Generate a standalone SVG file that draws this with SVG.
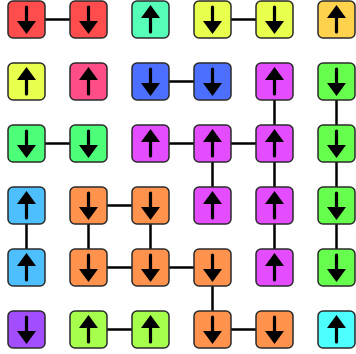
<svg xmlns="http://www.w3.org/2000/svg" xmlns:xlink="http://www.w3.org/1999/xlink" width="356" height="354" viewBox="0 0 356 354">
<style>
.cell{stroke:#2a2a2a;stroke-width:1.5}
.conn line{stroke:#000;stroke-width:2.5}
.shaft{stroke:#000;stroke-width:3.2;stroke-linecap:round;fill:none}
</style>
<defs>
<g id="down"><path class="shaft" d="M0,-12.5V4"/><polygon points="-9.5,1.5 9.5,1.5 0,14.5" fill="#000"/></g>
<g id="up"><path class="shaft" d="M0,12.5V-4"/><polygon points="-9.5,-1.5 9.5,-1.5 0,-14.5" fill="#000"/></g>
</defs>
<rect width="356" height="354" fill="#fff"/>
<g id="connectors" class="conn">
<line x1="26.5" y1="19.5" x2="88.5" y2="19.5"/>
<line x1="212.5" y1="19.5" x2="274.5" y2="19.5"/>
<line x1="150.5" y1="81.5" x2="212.5" y2="81.5"/>
<line x1="26.5" y1="143.5" x2="88.5" y2="143.5"/>
<line x1="150.5" y1="143.5" x2="274.5" y2="143.5"/>
<line x1="88.5" y1="205.5" x2="150.5" y2="205.5"/>
<line x1="88.5" y1="267.5" x2="212.5" y2="267.5"/>
<line x1="88.5" y1="329.5" x2="150.5" y2="329.5"/>
<line x1="212.5" y1="329.5" x2="274.5" y2="329.5"/>
<line x1="274.5" y1="81.5" x2="274.5" y2="267.5"/>
<line x1="336.5" y1="81.5" x2="336.5" y2="267.5"/>
<line x1="212.5" y1="143.5" x2="212.5" y2="205.5"/>
<line x1="26.5" y1="205.5" x2="26.5" y2="267.5"/>
<line x1="88.5" y1="205.5" x2="88.5" y2="267.5"/>
<line x1="150.5" y1="205.5" x2="150.5" y2="267.5"/>
<line x1="212.5" y1="267.5" x2="212.5" y2="329.5"/>
</g>
<g id="n00"><rect class="cell" x="8" y="1" width="37" height="37" rx="5" fill="#ff4d4d"/><use xlink:href="#down" x="26.5" y="19.5"/></g>
<g id="n01"><rect class="cell" x="70" y="1" width="37" height="37" rx="5" fill="#ff4d4d"/><use xlink:href="#down" x="88.5" y="19.5"/></g>
<g id="n02"><rect class="cell" x="132" y="1" width="37" height="37" rx="5" fill="#55ffb8"/><use xlink:href="#up" x="150.5" y="19.5"/></g>
<g id="n03"><rect class="cell" x="194" y="1" width="37" height="37" rx="5" fill="#e8ff4d"/><use xlink:href="#down" x="212.5" y="19.5"/></g>
<g id="n04"><rect class="cell" x="256" y="1" width="37" height="37" rx="5" fill="#e8ff4d"/><use xlink:href="#down" x="274.5" y="19.5"/></g>
<g id="n05"><rect class="cell" x="318" y="1" width="37" height="37" rx="5" fill="#ffd24d"/><use xlink:href="#up" x="336.5" y="19.5"/></g>
<g id="n10"><rect class="cell" x="8" y="63" width="37" height="37" rx="5" fill="#e8ff4d"/><use xlink:href="#up" x="26.5" y="81.5"/></g>
<g id="n11"><rect class="cell" x="70" y="63" width="37" height="37" rx="5" fill="#ff4d88"/><use xlink:href="#up" x="88.5" y="81.5"/></g>
<g id="n12"><rect class="cell" x="132" y="63" width="37" height="37" rx="5" fill="#4d6fff"/><use xlink:href="#down" x="150.5" y="81.5"/></g>
<g id="n13"><rect class="cell" x="194" y="63" width="37" height="37" rx="5" fill="#4d6fff"/><use xlink:href="#down" x="212.5" y="81.5"/></g>
<g id="n14"><rect class="cell" x="256" y="63" width="37" height="37" rx="5" fill="#e44dff"/><use xlink:href="#up" x="274.5" y="81.5"/></g>
<g id="n15"><rect class="cell" x="318" y="63" width="37" height="37" rx="5" fill="#66ff4d"/><use xlink:href="#down" x="336.5" y="81.5"/></g>
<g id="n20"><rect class="cell" x="8" y="125" width="37" height="37" rx="5" fill="#4dff78"/><use xlink:href="#down" x="26.5" y="143.5"/></g>
<g id="n21"><rect class="cell" x="70" y="125" width="37" height="37" rx="5" fill="#4dff78"/><use xlink:href="#down" x="88.5" y="143.5"/></g>
<g id="n22"><rect class="cell" x="132" y="125" width="37" height="37" rx="5" fill="#e44dff"/><use xlink:href="#up" x="150.5" y="143.5"/></g>
<g id="n23"><rect class="cell" x="194" y="125" width="37" height="37" rx="5" fill="#e44dff"/><use xlink:href="#up" x="212.5" y="143.5"/></g>
<g id="n24"><rect class="cell" x="256" y="125" width="37" height="37" rx="5" fill="#e44dff"/><use xlink:href="#up" x="274.5" y="143.5"/></g>
<g id="n25"><rect class="cell" x="318" y="125" width="37" height="37" rx="5" fill="#66ff4d"/><use xlink:href="#down" x="336.5" y="143.5"/></g>
<g id="n30"><rect class="cell" x="8" y="187" width="37" height="37" rx="5" fill="#4dbfff"/><use xlink:href="#up" x="26.5" y="205.5"/></g>
<g id="n31"><rect class="cell" x="70" y="187" width="37" height="37" rx="5" fill="#ff924d"/><use xlink:href="#down" x="88.5" y="205.5"/></g>
<g id="n32"><rect class="cell" x="132" y="187" width="37" height="37" rx="5" fill="#ff924d"/><use xlink:href="#down" x="150.5" y="205.5"/></g>
<g id="n33"><rect class="cell" x="194" y="187" width="37" height="37" rx="5" fill="#e44dff"/><use xlink:href="#up" x="212.5" y="205.5"/></g>
<g id="n34"><rect class="cell" x="256" y="187" width="37" height="37" rx="5" fill="#e44dff"/><use xlink:href="#up" x="274.5" y="205.5"/></g>
<g id="n35"><rect class="cell" x="318" y="187" width="37" height="37" rx="5" fill="#66ff4d"/><use xlink:href="#down" x="336.5" y="205.5"/></g>
<g id="n40"><rect class="cell" x="8" y="249" width="37" height="37" rx="5" fill="#4dbfff"/><use xlink:href="#up" x="26.5" y="267.5"/></g>
<g id="n41"><rect class="cell" x="70" y="249" width="37" height="37" rx="5" fill="#ff924d"/><use xlink:href="#down" x="88.5" y="267.5"/></g>
<g id="n42"><rect class="cell" x="132" y="249" width="37" height="37" rx="5" fill="#ff924d"/><use xlink:href="#down" x="150.5" y="267.5"/></g>
<g id="n43"><rect class="cell" x="194" y="249" width="37" height="37" rx="5" fill="#ff924d"/><use xlink:href="#down" x="212.5" y="267.5"/></g>
<g id="n44"><rect class="cell" x="256" y="249" width="37" height="37" rx="5" fill="#e44dff"/><use xlink:href="#up" x="274.5" y="267.5"/></g>
<g id="n45"><rect class="cell" x="318" y="249" width="37" height="37" rx="5" fill="#66ff4d"/><use xlink:href="#down" x="336.5" y="267.5"/></g>
<g id="n50"><rect class="cell" x="8" y="311" width="37" height="37" rx="5" fill="#a24dff"/><use xlink:href="#down" x="26.5" y="329.5"/></g>
<g id="n51"><rect class="cell" x="70" y="311" width="37" height="37" rx="5" fill="#a6ff4d"/><use xlink:href="#up" x="88.5" y="329.5"/></g>
<g id="n52"><rect class="cell" x="132" y="311" width="37" height="37" rx="5" fill="#a6ff4d"/><use xlink:href="#up" x="150.5" y="329.5"/></g>
<g id="n53"><rect class="cell" x="194" y="311" width="37" height="37" rx="5" fill="#ff924d"/><use xlink:href="#down" x="212.5" y="329.5"/></g>
<g id="n54"><rect class="cell" x="256" y="311" width="37" height="37" rx="5" fill="#ff924d"/><use xlink:href="#down" x="274.5" y="329.5"/></g>
<g id="n55"><rect class="cell" x="318" y="311" width="37" height="37" rx="5" fill="#4dffff"/><use xlink:href="#up" x="336.5" y="329.5"/></g>
</svg>
